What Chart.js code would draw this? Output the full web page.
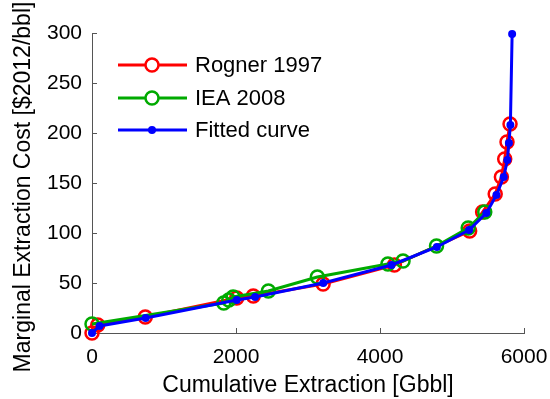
<!DOCTYPE html>
<html>
<head>
<meta charset="utf-8">
<script src="https://cdn.jsdelivr.net/npm/chart.js@4.4.0/dist/chart.umd.min.js"></script>
<style>
  html, body { margin: 0; padding: 0; background: #fff; }
  #wrap { width: 550px; height: 399px; }
</style>
</head>
<body>
<div id="wrap"><canvas id="costChart" width="550" height="399"></canvas></div>
<script>
// Data
const rognerX = [0, 80, 740, 2010, 2240, 3210, 4200, 5245, 5425, 5600, 5686, 5732, 5764, 5806];
const rognerY = [0, 8, 16, 35, 37, 49, 68, 102, 121, 139, 156, 174, 191, 209];

const ieaX = [0, 1830, 1900, 1960, 2450, 3130, 4110, 4320, 4785, 5225, 5455];
const ieaY = [9, 30, 33, 36, 42, 56, 69, 72, 87, 105, 121];

const fitX = [0, 105, 745, 2010, 2265, 3212, 4160, 4790, 5237, 5477, 5617, 5718, 5769, 5790, 5811, 5835];
const fitY = [0, 7, 15, 33, 36, 50, 68, 86, 103, 120, 138, 156, 173, 190, 208, 299];

const xTicks = [0, 2000, 4000, 6000];
const yTicks = [0, 50, 100, 150, 200, 250, 300];

const seriesNames = ['Rogner 1997', 'IEA 2008', 'Fitted curve'];
const yTitle = 'Marginal Extraction Cost [$2012/bbl]';

const FONT = '"Liberation Sans", Arial, sans-serif';
const RED = '#ff0000';
const GREEN = '#00aa00';
const BLUE = '#0000ff';
const AXIS = '#555555';

const toPoints = (xs, ys) => xs.map((x, i) => ({x, y: ys[i]}));

/**
 * Inside tick marks, MATLAB style
 */
const insideTicks = {
  id: 'insideTicks',
  beforeDatasetsDraw(chart) {
    const {ctx, chartArea, scales} = chart;
    ctx.save();
    ctx.strokeStyle = AXIS;
    ctx.lineWidth = 1;
    ctx.beginPath();
    xTicks.forEach(v => {
      const px = Math.round(scales.x.getPixelForValue(v)) + 0.5;
      ctx.moveTo(px, chartArea.bottom);
      ctx.lineTo(px, chartArea.bottom - 5);
    });
    yTicks.forEach(v => {
      const py = Math.round(scales.y.getPixelForValue(v)) + 0.5;
      ctx.moveTo(chartArea.left, py);
      ctx.lineTo(chartArea.left + 5, py);
    });
    ctx.stroke();
    ctx.restore();
  },
};

/**
 * Y axis title (drawn by hand so it can sit a little lower than the axis middle)
 */
const yAxisTitle = {
  id: 'yAxisTitle',
  afterDraw(chart) {
    const {ctx} = chart;
    ctx.save();
    ctx.translate(24, 187);
    ctx.rotate(-Math.PI / 2);
    ctx.font = `23px ${FONT}`;
    ctx.fillStyle = '#000';
    ctx.textAlign = 'center';
    ctx.textBaseline = 'middle';
    ctx.fillText(yTitle, 0, 0);
    ctx.restore();
  },
};

/**
 * Legend drawn inside the axes, top left
 */
const innerLegend = {
  id: 'innerLegend',
  afterDraw(chart) {
    const {ctx} = chart;
    const colors = [RED, GREEN, BLUE];
    const rows = [65, 98, 130];
    ctx.save();
    ctx.font = `22px ${FONT}`;
    ctx.textBaseline = 'middle';
    rows.forEach((y, i) => {
      ctx.strokeStyle = colors[i];
      ctx.lineWidth = 3;
      ctx.beginPath();
      ctx.moveTo(118, y);
      ctx.lineTo(187, y);
      ctx.stroke();
      ctx.beginPath();
      if (i < 2) {
        ctx.lineWidth = 2.5;
        ctx.arc(152, y, 6.5, 0, Math.PI * 2);
        ctx.fillStyle = '#fff';
        ctx.fill();
        ctx.stroke();
      } else {
        ctx.arc(152, y, 4, 0, Math.PI * 2);
        ctx.fillStyle = BLUE;
        ctx.fill();
      }
      ctx.fillStyle = '#000';
      ctx.fillText(seriesNames[i], 195, y + 1);
    });
    ctx.restore();
  },
};

const ctx = document.getElementById('costChart').getContext('2d');

new Chart(ctx, {
  type: 'line',
  data: {
    datasets: [
      {
        label: seriesNames[0],
        data: toPoints(rognerX, rognerY),
        borderColor: RED,
        borderWidth: 3,
        pointRadius: 6.5,
        pointBorderWidth: 2.5,
        pointBackgroundColor: 'rgba(0,0,0,0)',
        pointBorderColor: RED,
        tension: 0,
        clip: false,
        order: 3,
      },
      {
        label: seriesNames[1],
        data: toPoints(ieaX, ieaY),
        borderColor: GREEN,
        borderWidth: 3,
        pointRadius: 6.5,
        pointBorderWidth: 2.5,
        pointBackgroundColor: 'rgba(0,0,0,0)',
        pointBorderColor: GREEN,
        tension: 0,
        clip: false,
        order: 2,
      },
      {
        label: seriesNames[2],
        data: toPoints(fitX, fitY),
        borderColor: BLUE,
        borderWidth: 3,
        pointRadius: 4,
        pointBorderWidth: 0,
        pointBackgroundColor: BLUE,
        tension: 0,
        clip: false,
        order: 1,
      },
    ],
  },
  options: {
    responsive: false,
    animation: false,
    devicePixelRatio: 1,
    layout: {padding: {top: 33, right: 26, left: 0, bottom: 0}},
    plugins: {
      legend: {display: false},
      tooltip: {enabled: false},
    },
    scales: {
      x: {
        type: 'linear',
        min: 0,
        max: 6000,
        afterFit: (scale) => {
          scale.height = 66;
          scale.paddingLeft = 0;
          scale.paddingRight = 0;
        },
        afterBuildTicks: (scale) => { scale.ticks = xTicks.map(v => ({value: v})); },
        grid: {display: false, drawTicks: false},
        border: {display: true, color: AXIS, width: 1},
        ticks: {
          padding: 12,
          color: '#000',
          font: {family: FONT, size: 21},
          maxRotation: 0,
          callback: (v) => String(v),
        },
        title: {
          display: true,
          text: 'Cumulative Extraction [Gbbl]',
          color: '#000',
          font: {family: FONT, size: 23},
          padding: {top: 0, bottom: 0},
        },
      },
      y: {
        type: 'linear',
        min: 0,
        max: 300,
        afterFit: (scale) => {
          scale.width = 92;
          scale.paddingTop = 0;
          scale.paddingBottom = 0;
        },
        afterBuildTicks: (scale) => { scale.ticks = yTicks.map(v => ({value: v})); },
        grid: {display: false, drawTicks: false},
        border: {display: true, color: AXIS, width: 1},
        ticks: {
          padding: 10,
          color: '#000',
          font: {family: FONT, size: 21},
          callback: (v) => String(v),
        },
        title: {display: false},
      },
    },
  },
  plugins: [insideTicks, yAxisTitle, innerLegend],
});
</script>
</body>
</html>
